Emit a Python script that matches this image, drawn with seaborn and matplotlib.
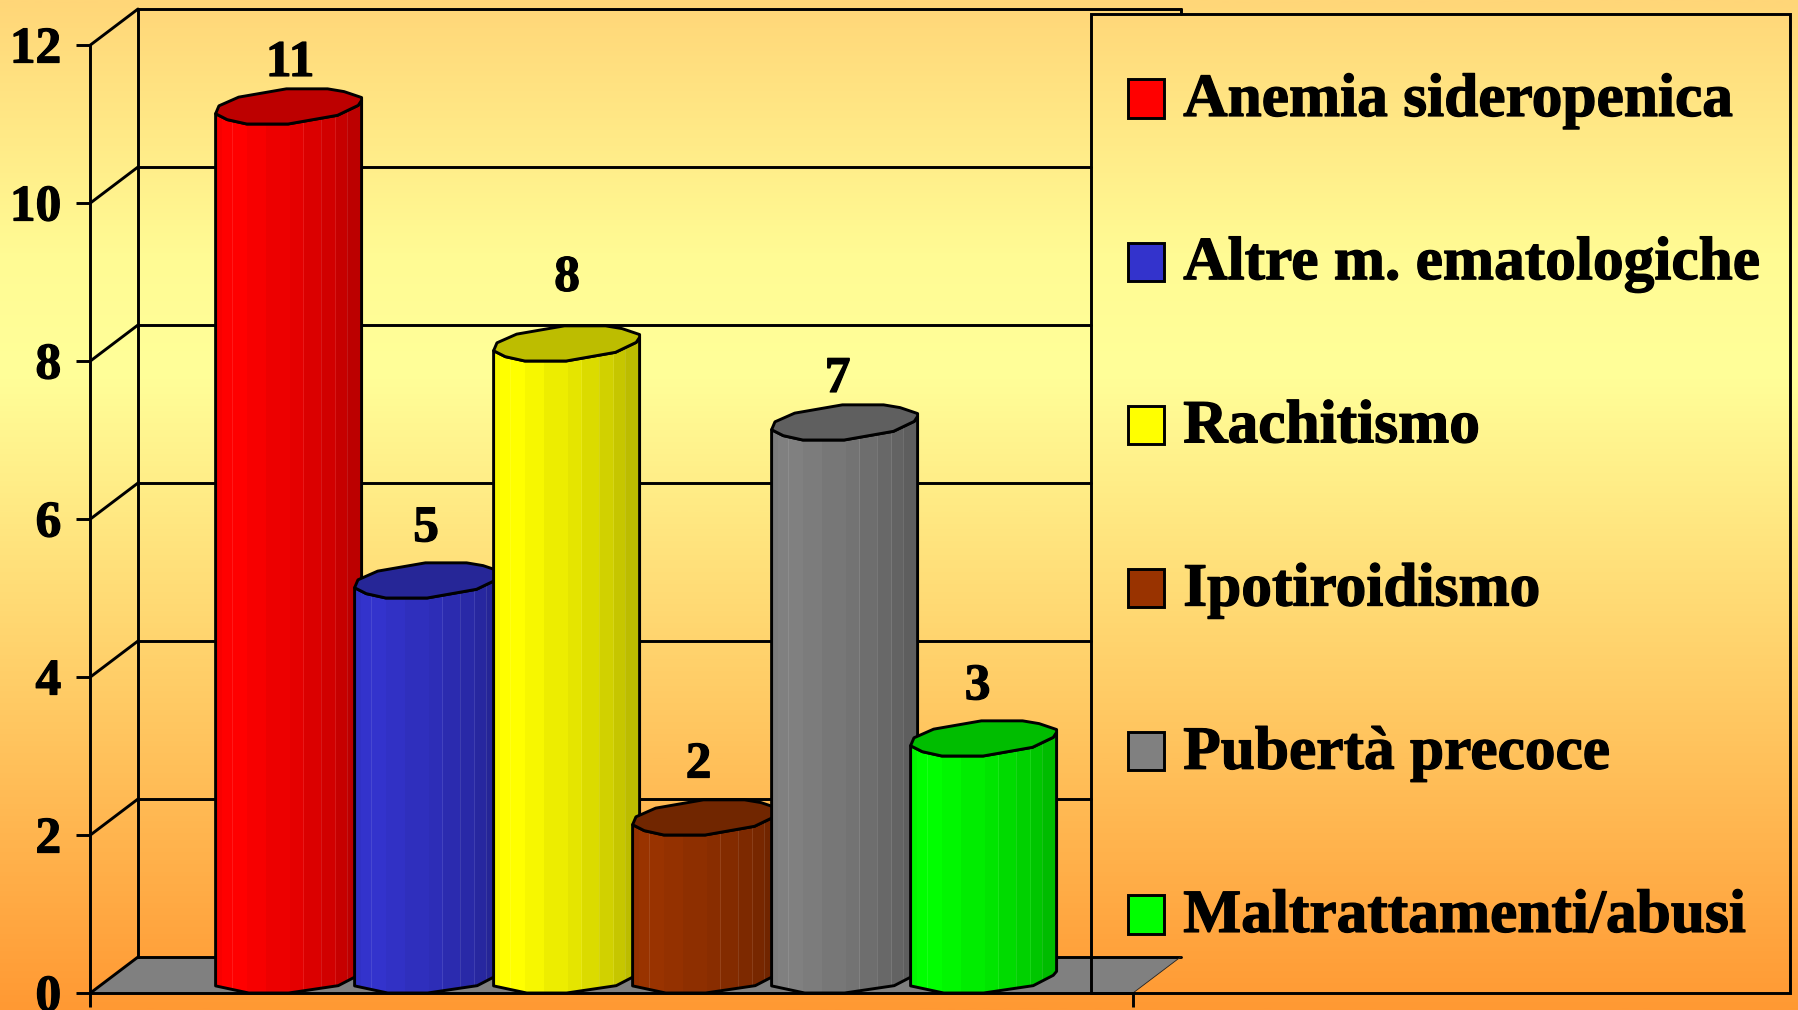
import numpy as np
import pandas as pd
import matplotlib
matplotlib.use("Agg")
import matplotlib.pyplot as plt
import matplotlib.patheffects as pe
from matplotlib.legend_handler import HandlerPatch
from matplotlib.patches import Polygon, Rectangle
from matplotlib.colors import LinearSegmentedColormap, to_rgb
import seaborn as sns

# ---- data ----
categories = ["Anemia sideropenica", "Altre m. ematologiche", "Rachitismo",
              "Ipotiroidismo", "Pubertà precoce", "Maltrattamenti/abusi"]
values = [11, 5, 8, 2, 7, 3]
colors = ["#ff0000", "#3333cc", "#ffff00", "#993300", "#808080", "#00ff00"]
y_ticks = [0, 2, 4, 6, 8, 10, 12]

# ---- layout (pixels of the 1798x1010 canvas) ----
W, H = 1798, 1010
X0, X1 = 90.4, 1133.0      # front axis ends
Y0, Y12 = 993.0, 45.0      # y = 0 and y = 12
STEP = 139.0               # px per category
FIRST = 288.6              # px centre of the first bar
XMIN = (X0 - FIRST) / STEP
XMAX = (X1 - FIRST) / STEP
DX = 47.6 / STEP           # depth offset in data units
DY = 36.0 / 79.0
LEGEND_L = 1091.0
LW = 2.1
FONT = "Liberation Serif"
HEAVY = [pe.withStroke(linewidth=0.9, foreground="black")]

sns.set_style("white")
plt.rcParams["font.family"] = [FONT, "DejaVu Serif"]
plt.rcParams["font.weight"] = "bold"
plt.rcParams["text.color"] = "black"
plt.rcParams["axes.labelcolor"] = "black"
plt.rcParams["xtick.color"] = "black"
plt.rcParams["ytick.color"] = "black"

fig = plt.figure(figsize=(W / 100, H / 100), dpi=100)

# page background: vertical gradient
bg = fig.add_axes([0, 0, 1, 1], zorder=-5)
bg.axis("off")
cmap = LinearSegmentedColormap.from_list(
    "page", [(0.0, "#ffd678"), (0.25, "#fffb94"), (0.37, "#ffff99"), (1.0, "#ff9933")])
bg.imshow(np.linspace(0, 1, 512).reshape(-1, 1), cmap=cmap, aspect="auto",
          extent=(0, 1, 0, 1), origin="upper", vmin=0, vmax=1)

ax = fig.add_axes([X0 / W, 1 - Y0 / H, (X1 - X0) / W, (Y0 - Y12) / H])
ax.patch.set_visible(False)

df = pd.DataFrame({"category": categories, "value": values})
sns.barplot(data=df, x="category", y="value", hue="category", order=categories,
            hue_order=categories, palette=colors, width=146 / STEP, saturation=1,
            dodge=False, legend=False, ax=ax, zorder=3)

ax.set_xlim(XMIN, XMAX)
ax.set_ylim(0, 12)
ax.set_xlabel("")
ax.set_ylabel("")
ax.set_yticks(y_ticks)
ax.set_xticks([XMIN, XMAX])
ax.set_xticklabels(["", ""])
ax.tick_params(axis="both", which="major", length=10, width=LW, color="black",
               left=True, bottom=True, pad=11)
ax.tick_params(axis="y", labelsize=37, labelcolor="black")
for lab in ax.get_yticklabels():
    lab.set_fontweight("bold")
    lab.set_fontfamily(FONT)
    lab.set_path_effects(HEAVY)
for s in ("top", "right"):
    ax.spines[s].set_visible(False)
for s in ("left", "bottom"):
    ax.spines[s].set_linewidth(LW)
    ax.spines[s].set_color("black")
    ax.spines[s].set_zorder(2)

# floor and back walls
ax.add_patch(Polygon([(XMIN, 0), (XMAX, 0), (XMAX + DX, DY), (XMIN + DX, DY)],
                     closed=True, facecolor="#808080", edgecolor="none",
                     zorder=1, clip_on=False))
xlegend = (LEGEND_L - FIRST) / STEP
for y in y_ticks:
    ax.plot([XMIN, XMIN + DX], [y, y + DY], color="black", lw=LW, zorder=1.5,
            clip_on=False, solid_capstyle="round")
    if y == y_ticks[0] or y == y_ticks[-1]:
        x_end = XMAX + DX
    else:
        x_end = xlegend
    ax.plot([XMIN + DX, x_end], [y + DY, y + DY], color="black", lw=LW,
            zorder=1.5, clip_on=False)
ax.plot([XMIN + DX, XMIN + DX], [DY, 12 + DY], color="black", lw=LW, zorder=1.5,
        clip_on=False)
ax.plot([XMAX, XMAX + DX], [0, DY], color="#222222", lw=0.6, zorder=1.5,
        clip_on=False)
ax.plot([XMAX + DX, XMAX + DX], [12 + DY - 0.06, 12 + DY], color="black", lw=LW,
        zorder=1.5, clip_on=False)

# cylinder profile: fraction of bar width, height above the reference level
TOP_FRONT = [(1.0, .30), (.977, .236), (.835, .11), (.497, 0), (.214, 0),
             (.08, .055), (0, .13)]
TOP_BACK = [(.023, .23), (.158, .34), (.485, .445), (.767, .445), (.88, .41),
            (1.0, .335)]
BASE = [(0, .09), (.227, 0), (.5, 0), (.84, .093), (.977, .224), (1.0, .274)]
BAND_EDGES = np.array([0, .04, .11, .21, .34, .51, .60, .72, .82, .90, 1.0])
BAND_SHADE = np.array([.97, 1, 1, .97, .93, .90, .86, .82, .78, .74])
FACETS = [.11, .60, .72, .82, .90]
TOP_SHADE = 0.74
LABEL_DX = [1.4, -1.5, 0.5, -7, -7, -6]     # px
LABEL_DY = [.76, .87, 1.04, .88, .76, .87]  # data units

bars = sorted([p for p in ax.patches if isinstance(p, Rectangle) and p.get_width() > 1],
              key=lambda p: p.get_x())

for i, (bar, col) in enumerate(zip(bars, colors)):
    z = 3 + i
    x0, w, v = bar.get_x(), bar.get_width(), bar.get_height()
    body = [(x0 + f * w, d) for f, d in BASE] + \
           [(x0 + f * w, v + d) for f, d in TOP_FRONT]
    clip = Polygon(body, closed=True, transform=ax.transData)
    bar.set_zorder(z)
    bar.set_clip_path(clip)
    # shaded body
    rgb = np.array(to_rgb(col))
    n = 600
    fr = (np.arange(n) + .5) / n
    shade = BAND_SHADE[np.clip(np.searchsorted(BAND_EDGES, fr) - 1, 0, 9)]
    strip = (shade[:, None] * rgb)[None, :, :]
    im = ax.imshow(strip, extent=(x0, x0 + w, 0, v + 0.6), aspect="auto",
                   origin="lower", interpolation="nearest", zorder=z + .1)
    im.set_clip_path(clip)
    for f in FACETS:
        ln = ax.plot([x0 + f * w] * 2, [0, v + .5], color="#ffffff", alpha=.1,
                     lw=.8, zorder=z + .2)[0]
        ln.set_clip_path(clip)
    ax.add_patch(Polygon(body, closed=True, facecolor="none", edgecolor="black",
                         lw=LW, zorder=z + .3, clip_on=False, joinstyle="round"))
    top = [(x0 + f * w, v + d) for f, d in TOP_BACK + TOP_FRONT]
    ax.add_patch(Polygon(top, closed=True, facecolor=tuple(rgb * TOP_SHADE),
                         edgecolor="black", lw=LW, zorder=z + .4, clip_on=False,
                         joinstyle="round"))
    ax.text(x0 + w / 2 + LABEL_DX[i] / STEP, v + LABEL_DY[i], str(values[i]),
            ha="center", va="center", fontsize=37, fontweight="bold",
            fontfamily=FONT, color="black", zorder=20, clip_on=False,
            path_effects=HEAVY)

ax.set_xlim(XMIN, XMAX)
ax.set_ylim(0, 12)


# legend
def lowered_square(legend, orig_handle, xdescent, ydescent, width, height, fontsize):
    return Rectangle((-xdescent, -ydescent - 3.0), width, height)


handles = [Rectangle((0, 0), 1, 1, facecolor=c, edgecolor="black", lw=LW)
           for c in colors]
leg = ax.legend(handles, categories, loc="upper left",
                bbox_to_anchor=(1128 / W, 1 - 73 / H), bbox_transform=fig.transFigure,
                frameon=False, borderpad=0, borderaxespad=0, handlelength=0.58,
                handleheight=0.58, handletextpad=0.32, labelspacing=1.746,
                handler_map={Rectangle: HandlerPatch(patch_func=lowered_square)},
                prop={"family": FONT, "weight": "bold", "size": 44.2})
leg.set_zorder(25)
for t in leg.get_texts():
    t.set_color("black")
    t.set_path_effects(HEAVY)
fig.add_artist(Rectangle((LEGEND_L / W, 1 - Y0 / H), (1790 - LEGEND_L) / W,
                         (Y0 - 14) / H, transform=fig.transFigure,
                         facecolor="none", edgecolor="black", lw=LW, zorder=24))

fig.savefig("out.png", dpi=100)
